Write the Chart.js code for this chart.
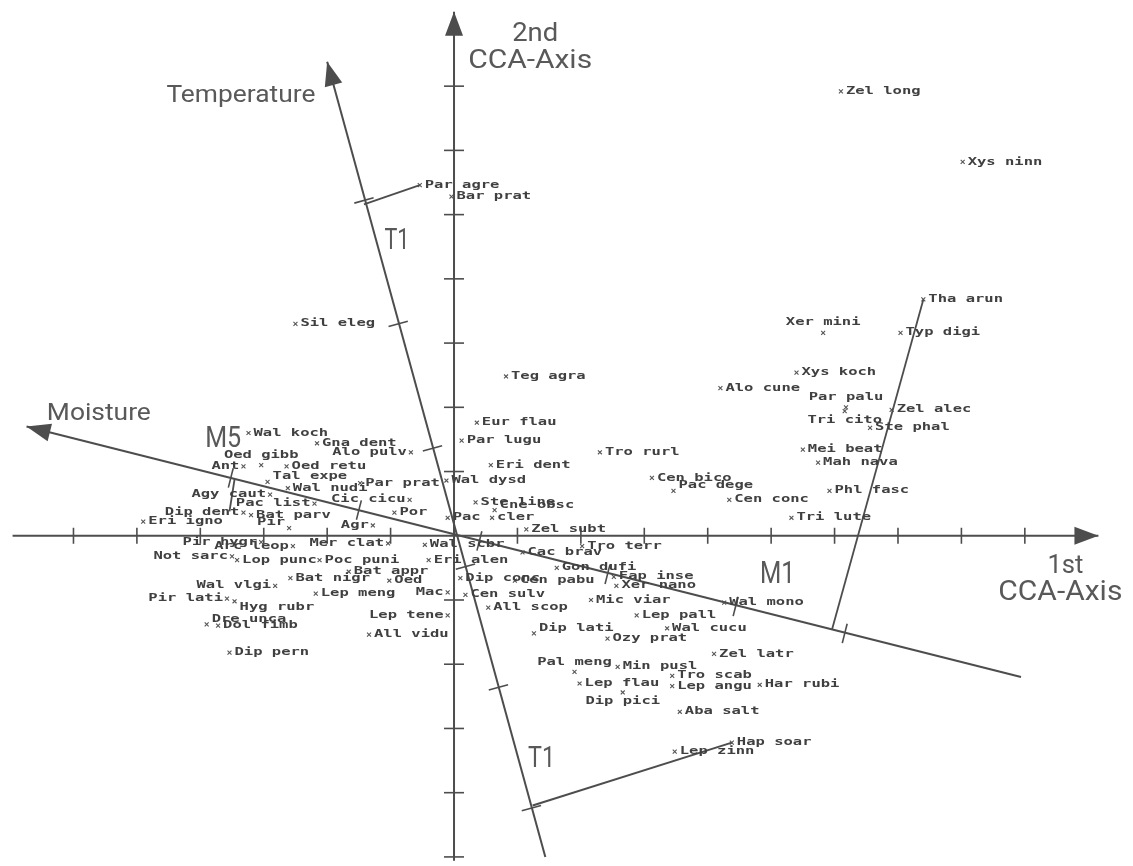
<!DOCTYPE html>
<html>
<head>
<meta charset="utf-8">
<script src="https://cdn.jsdelivr.net/npm/chart.js@4/dist/chart.umd.min.js"></script>
<style>
  html, body { margin: 0; padding: 0; background: #fff; }
  #wrap { width: 1133px; height: 866px; }
</style>
</head>
<body>
<div id="wrap"><canvas id="c" width="1133" height="866"></canvas></div>
<script>
// Species scores on the first two CCA axes
const speciesNames = [
  "Zel long","Xys ninn","Par agre","Bar prat","Sil eleg","Teg agra","Tha arun","Xer mini","Typ digi","Xys koch",
  "Alo cune","Par palu","Tri cito","Zel alec","Ste phal","Mei beat","Mah nava","Phl fasc","Tri lute","Tro rurl",
  "Cen bico","Pac dege","Cen conc","Eur flau","Par lugu","Eri dent","Wal dysd","Ste line","Cne obsc","Por",
  "Pac","cler","Zel subt","Tro terr","Cac brav","Wal scbr","Eri alen","Dip conc","Cen pabu","Gon dufi",
  "Fap inse","Xer nano","Mic viar","Cen sulv","All scop","Lep pall","Wal mono","Wal cucu","Dip lati","Ozy prat",
  "Zel latr","Pal meng","Min pusl","Lep flau","Dip pici","Tro scab","Lep angu","Har rubi","Aba salt","Hap soar",
  "Lep zinn","Wal koch","Gna dent","Alo pulv","Oed gibb","Ant","Oed retu","Tal expe","Wal nudi","Par prat",
  "Agy caut","Pac list","Cic cicu","Dip dent","Bat parv","Eri igno","Pir","Agr","Pir hygr","Arc leop",
  "Mer clat","Not sarc","Lop punc","Poc puni","Bat appr","Bat nigr","Oed","Mac","Lep meng","Lep tene",
  "All vidu","Wal vlgi","Pir lati","Hyg rubr","Dre unca","Dol fimb","Dip pern"
];
const speciesX = [
  3.05, 4.01, -0.27, -0.02, -1.25, 0.41, 3.70, 2.91, 3.52, 2.70,
  2.10, 3.09, 3.08, 3.45, 3.28, 2.75, 2.87, 2.96, 2.66, 1.15,
  1.56, 1.73, 2.17, 0.18, 0.06, 0.29, -0.06, 0.17, 0.32, -0.47,
  -0.05, 0.30, 0.57, 1.01, 0.54, -0.23, -0.20, 0.05, 0.48, 0.81,
  1.26, 1.28, 1.08, 0.09, 0.27, 1.44, 2.13, 1.68, 0.63, 1.21,
  2.05, 0.95, 1.29, 0.99, 1.33, 1.72, 1.72, 2.41, 1.78, 2.19,
  1.74, -1.62, -1.08, -0.34, -1.52, -1.66, -1.32, -1.47, -1.31, -0.74,
  -1.45, -1.10, -0.35, -1.66, -1.60, -2.45, -1.30, -0.64, -1.52, -1.27,
  -0.52, -1.75, -1.71, -1.06, -0.83, -1.29, -0.51, -0.05, -1.09, -0.05,
  -0.67, -1.41, -1.79, -1.73, -1.95, -1.86, -1.77
];
const speciesY = [
  3.46, 2.91, 2.73, 2.64, 1.65, 1.24, 1.84, 1.58, 1.58, 1.27,
  1.15, 1.00, 0.97, 0.98, 0.84, 0.67, 0.57, 0.35, 0.14, 0.65,
  0.45, 0.35, 0.28, 0.88, 0.74, 0.55, 0.43, 0.26, 0.20, 0.18,
  0.14, 0.14, 0.05, -0.08, -0.13, -0.07, -0.19, -0.33, -0.35, -0.25,
  -0.32, -0.39, -0.50, -0.46, -0.56, -0.62, -0.52, -0.72, -0.76, -0.80,
  -0.92, -1.06, -1.02, -1.15, -1.22, -1.09, -1.17, -1.16, -1.37, -1.61,
  -1.68, 0.80, 0.72, 0.65, 0.55, 0.54, 0.54, 0.42, 0.37, 0.41,
  0.32, 0.25, 0.28, 0.18, 0.16, 0.11, 0.06, 0.08, -0.05, -0.08,
  -0.06, -0.16, -0.19, -0.19, -0.28, -0.33, -0.35, -0.44, -0.45, -0.62,
  -0.77, -0.39, -0.49, -0.51, -0.69, -0.70, -0.91
];

// Tick positions on the two CCA axes
const axis1Ticks = [-3, -2.5, -2, -1.5, -1, -0.5, 0.5, 1, 1.5, 2, 2.5, 3, 3.5, 4, 4.5];
const axis2Ticks = [-2.5, -2, -1.5, -1, -0.5, 0.5, 1, 1.5, 2, 2.5, 3, 3.5];

// Environmental vectors (start, end) and their class marks
const tempVecX = [0.72, -1.00];
const tempVecY = [-2.50, 3.69];
const tempTickX = [-0.71, -0.44, -0.17, 0.09, 0.35, 0.61];
const tempTickY = [2.61, 1.65, 0.68, -0.24, -1.18, -2.12];
const moistVecX = [4.47, -3.37];
const moistVecY = [-1.10, 0.85];
const moistTickX = [-1.76, -0.75, 0.20, 1.21, 2.22, 3.08];
const moistTickY = [0.45, 0.20, -0.04, -0.30, -0.55, -0.76];

// Connectors from class marks to the extreme species
const t1TopX = [-0.71, -0.27];
const t1TopY = [2.58, 2.73];
const t1BotX = [0.62, 2.19];
const t1BotY = [-2.10, -1.61];
const m1X = [2.98, 3.70];
const m1Y = [-0.73, 1.84];
const m5X = [-1.73, -1.77];
const m5Y = [0.44, 0.19];

// Axis extents
const axis1X = [-3.48, 5.08];
const axis2Y = [-2.53, 4.08];

// Where each species label sits relative to its mark (default: right)
const labelSide = {
  "Xer mini": "a", "Par palu": "a", "Oed gibb": "a", "Pal meng": "a",
  "Tri cito": "b", "Dip pici": "b",
  "Pac dege": "ra", "Cne obsc": "ra", "Tal expe": "ra", "Dip lati": "ra", "Dre unca": "ra",
  "Hyg rubr": "rb", "Pir": "la",
  "Alo pulv": "l", "Ant": "l", "Agy caut": "l", "Pac list": "l", "Cic cicu": "l", "Dip dent": "l",
  "Agr": "l", "Pir hygr": "l", "Arc leop": "l", "Mer clat": "l", "Not sarc": "l", "Mac": "l",
  "Lep tene": "l", "Wal vlgi": "l", "Pir lati": "l"
};

// Headings: text, position (cap centre) in score units, size, width
const headings = [
  { text: "2nd", x: 0.64, y: 3.92, size: 25, w: 46 },
  { text: "CCA-Axis", x: 0.60, y: 3.71, size: 25, w: 124 },
  { text: "Temperature", x: -1.68, y: 3.44, size: 24, w: 149 },
  { text: "Moisture", x: -2.80, y: 0.97, size: 24, w: 104 },
  { text: "M5", x: -1.82, y: 0.77, size: 29, w: 36 },
  { text: "T1", x: -0.45, y: 2.31, size: 29, w: 25 },
  { text: "T1", x: 0.69, y: -1.72, size: 30, w: 27 },
  { text: "M1", x: 2.55, y: -0.28, size: 31, w: 35 },
  { text: "1st", x: 4.82, y: -0.22, size: 26, w: 36 },
  { text: "CCA-Axis", x: 4.78, y: -0.42, size: 28, w: 124 }
];

const INK = "#4d4d4d";
const TEXT_INK = "#404040";
const HEAD_INK = "#595959";

const pts = (xs, ys) => xs.map((v, i) => ({ x: v, y: ys[i] }));
const lineSet = (data, width) => ({
  type: "line", data, showLine: true, pointRadius: 0, borderColor: INK,
  borderWidth: width, fill: false, clip: false, tension: 0
});

const overlay = {
  id: "overlay",
  afterDatasetsDraw(chart) {
    const { ctx } = chart;
    const sx = chart.scales.x, sy = chart.scales.y;
    const px = v => sx.getPixelForValue(v);
    const py = v => sy.getPixelForValue(v);
    ctx.save();
    ctx.strokeStyle = INK;
    ctx.fillStyle = INK;
    ctx.lineWidth = 1.6;
    const seg = (a, b, c, d) => { ctx.beginPath(); ctx.moveTo(a, b); ctx.lineTo(c, d); ctx.stroke(); };

    // axis ticks
    axis1Ticks.forEach(t => seg(px(t), py(0) - 8, px(t), py(0) + 8));
    axis2Ticks.forEach(t => seg(px(0) - 10, py(t), px(0) + 10, py(t)));

    // class marks across the environmental vectors
    function crossMarks(vx, vy, tx, ty, half) {
      const dx = px(vx[1]) - px(vx[0]), dy = py(vy[1]) - py(vy[0]);
      const L = Math.hypot(dx, dy);
      const nx = -dy / L, ny = dx / L;
      tx.forEach((t, i) => {
        const cx = px(t), cy = py(ty[i]);
        seg(cx - nx * half, cy - ny * half, cx + nx * half, cy + ny * half);
      });
    }
    crossMarks(tempVecX, tempVecY, tempTickX, tempTickY, 10);
    crossMarks(moistVecX, moistVecY, moistTickX, moistTickY, 10);

    // arrowheads
    function arrow(x0, y0, x1, y1) {
      const ax = px(x0), ay = py(y0), bx = px(x1), by = py(y1);
      const L = Math.hypot(bx - ax, by - ay);
      const ux = (bx - ax) / L, uy = (by - ay) / L;
      const len = 24, half = 9;
      const baseX = bx - ux * len, baseY = by - uy * len;
      ctx.beginPath();
      ctx.moveTo(bx, by);
      ctx.lineTo(baseX - uy * half, baseY + ux * half);
      ctx.lineTo(baseX + uy * half, baseY - ux * half);
      ctx.closePath();
      ctx.fill();
    }
    arrow(axis1X[0], 0, axis1X[1], 0);
    arrow(0, axis2Y[0], 0, axis2Y[1]);
    arrow(tempVecX[0], tempVecY[0], tempVecX[1], tempVecY[1]);
    arrow(moistVecX[0], moistVecY[0], moistVecX[1], moistVecY[1]);

    // species labels
    ctx.fillStyle = TEXT_INK;
    ctx.font = 'bold 10px "DejaVu Sans Mono"';
    const stretch = 1.55;
    speciesNames.forEach((name, i) => {
      const side = labelSide[name] || "r";
      let x = px(speciesX[i]), y = py(speciesY[i]);
      let align = "left", base = "middle";
      if (side === "r") { x += 5; }
      else if (side === "ra") { x += 5; y -= 5; }
      else if (side === "rb") { x += 5; y += 6; }
      else if (side === "l") { x -= 4; align = "right"; }
      else if (side === "la") { x -= 4; y -= 6; align = "right"; }
      else if (side === "a") { y -= 5; align = "center"; base = "bottom"; }
      else if (side === "b") { y += 4; align = "center"; base = "top"; }
      ctx.save();
      ctx.translate(x, y);
      ctx.scale(stretch, 1);
      ctx.textAlign = align;
      ctx.textBaseline = base;
      ctx.fillText(name, 0, 0);
      ctx.restore();
    });

    // headings
    ctx.fillStyle = HEAD_INK;
    headings.forEach(h => {
      ctx.font = `${h.size}px Roboto`;
      const w = ctx.measureText(h.text).width;
      ctx.save();
      ctx.translate(px(h.x), py(h.y) + h.size * 0.355);
      ctx.scale(h.w / w, 1);
      ctx.textAlign = "center";
      ctx.textBaseline = "alphabetic";
      ctx.fillText(h.text, 0, 0);
      ctx.restore();
    });
    ctx.restore();
  }
};

new Chart(document.getElementById("c"), {
  type: "scatter",
  data: {
    datasets: [
      lineSet(pts(axis1X, [0, 0]), 2),
      lineSet(pts([0, 0], axis2Y), 2),
      lineSet(pts(tempVecX, tempVecY), 2),
      lineSet(pts(moistVecX, moistVecY), 2),
      lineSet(pts(t1TopX, t1TopY), 1.8),
      lineSet(pts(t1BotX, t1BotY), 2),
      lineSet(pts(m1X, m1Y), 1.8),
      lineSet(pts(m5X, m5Y), 1.8),
      {
        type: "scatter",
        data: pts(speciesX, speciesY),
        pointStyle: "crossRot",
        pointRadius: 2.8,
        borderWidth: 1.1,
        borderColor: "#555",
        backgroundColor: "#555",
        clip: false
      }
    ]
  },
  options: {
    responsive: false,
    devicePixelRatio: 1,
    animation: false,
    layout: { padding: 0 },
    plugins: { legend: { display: false }, tooltip: { enabled: false } },
    scales: {
      x: { type: "linear", min: -3.539, max: 5.3125, display: false },
      y: { type: "linear", min: -2.531, max: 4.131, display: false }
    }
  },
  plugins: [overlay]
});
</script>
</body>
</html>
